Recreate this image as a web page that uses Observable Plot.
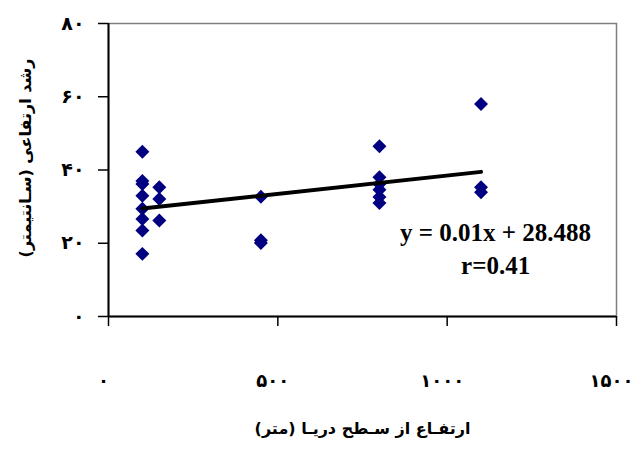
<!DOCTYPE html>
<html>
<head>
<meta charset="utf-8">
<script src="https://cdn.jsdelivr.net/npm/d3@7"></script>
<script src="https://cdn.jsdelivr.net/npm/@observablehq/plot@0.6"></script>
<style>
  html, body { margin: 0; padding: 0; background: #fff; }
</style>
</head>
<body>
<div id="chart"></div>
<script>
// Data: elevation above sea level (m) and height growth (cm)
const elevation = [100, 100, 100, 100, 100, 100, 100, 100,
                   150, 150, 150,
                   450, 450, 450,
                   800, 800, 800, 800, 800, 800,
                   1100, 1100, 1100];
const growth = [45, 37, 36.2, 33, 29.4, 26.6, 23.5, 17.1,
                35.3, 32.1, 26.2,
                32.7, 20.8, 20.1,
                46.5, 38, 36.2, 34.6, 32.6, 31,
                58, 35.3, 33.9];
const xTicks = [0, 500, 1000, 1500];
const yTicks = [0, 20, 40, 60, 80];
const slope = 0.01;
const intercept = 28.488;
const trendX = [100, 1100];
const equationText = "y = 0.01x + 28.488";
const rText = "r=0.41";
const xTitle = "ارتفـاع از سـطح دریـا (متر)";
const yTitle = "رشد ارتفاعی (سـانتیمتر)";

const points = elevation.map((e, i) => ({x: e, y: growth[i]}));
const trend = trendX.map(x => ({x, y: slope * x + intercept}));
const fa = n => String(n).replace(/\d/g, d => "۰۱۲۳۴۵۶۷۸۹"[d]);

const chart = Plot.plot({
  width: 641,
  height: 451,
  marginLeft: 108,
  marginRight: 25,
  marginTop: 23,
  marginBottom: 135,
  x: {domain: [0, 1500]},
  y: {domain: [0, 80]},
  style: {background: "#fff", fontFamily: "DejaVu Sans", color: "#000"},
  marks: [
    Plot.frame({stroke: "#808080", strokeWidth: 1.5}),
    Plot.axisY({ticks: yTicks, tickFormat: fa, tickSize: 10, tickPadding: 14,
      fontSize: 19, fontWeight: "bold", label: null, strokeWidth: 1.5}),
    Plot.axisX({ticks: xTicks, tickFormat: () => "", tickSize: 10, label: null, strokeWidth: 1.5}),
    Plot.axisX({ticks: xTicks, tickFormat: fa, tickSize: 0, tickPadding: 58,
      fontSize: 18, fontWeight: "bold", label: null, dx: -5}),
    Plot.ruleX([0], {stroke: "#000", strokeWidth: 2}),
    Plot.ruleY([0], {stroke: "#000", strokeWidth: 2}),
    Plot.dot(points, {x: "x", y: "y", symbol: "diamond2", r: 6.3, fill: "#000080", stroke: "none"}),
    Plot.line(trend, {x: "x", y: "y", stroke: "#000", strokeWidth: 4}),
    Plot.text([equationText], {x: 1143, y: 22.9, text: d => d, fontFamily: "Liberation Serif",
      fontWeight: "bold", fontSize: 25, fill: "#000"}),
    Plot.text([rText], {x: 1143, y: 13.9, text: d => d, fontFamily: "Liberation Serif",
      fontWeight: "bold", fontSize: 25, fill: "#000"}),
    Plot.text([xTitle], {frameAnchor: "bottom", dy: 117, text: d => d, fontSize: 16,
      fontWeight: "bold", fill: "#000"}),
    Plot.text([yTitle], {frameAnchor: "left", textAnchor: "middle", dx: -83, dy: -12, rotate: -90,
      text: d => d, fontSize: 16, fontWeight: "bold", fill: "#000"})
  ]
});
document.getElementById("chart").append(chart);
</script>
</body>
</html>
